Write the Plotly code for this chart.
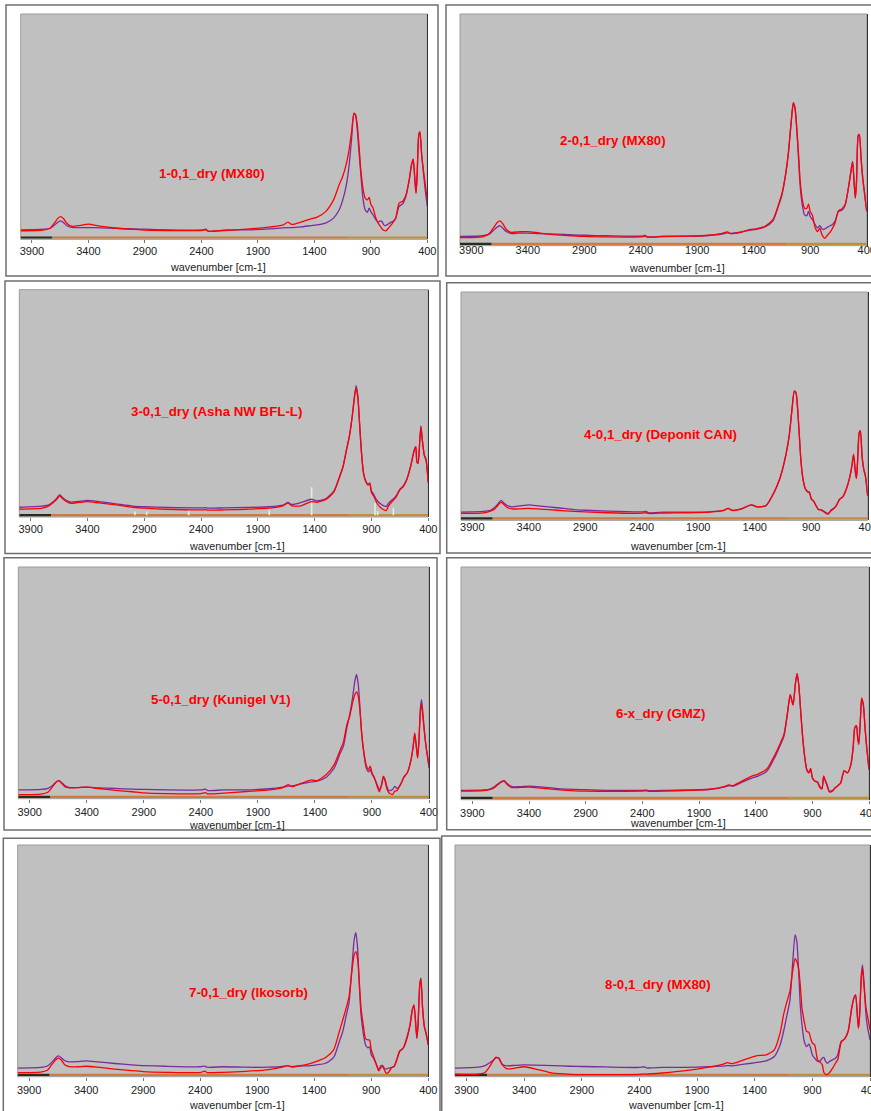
import plotly.graph_objects as go

W, H = 871, 1111

# ---------------------------------------------------------------- data
# Shared wavenumber grid [cm-1]
WN = [4000, 3800, 3740, 3700, 3670, 3645, 3620, 3590, 3550, 3480,
      3400, 3300, 3150, 3000, 2900, 2700, 2400, 2360, 2340, 2200,
      2000, 1800, 1680, 1635, 1600, 1520, 1430, 1380, 1300, 1230,
      1180, 1150, 1120, 1095, 1070, 1050, 1035, 1020, 1005, 990,
      970, 950, 930, 915, 900, 880, 855, 835, 815, 800,
      785, 770, 750, 720, 700, 680, 650, 620, 590, 560,
      540, 525, 510, 500, 490, 475, 465, 450, 435, 420,
      400]

# Absorbance (relative units, % of panel height)
P1_PURPLE = [3.4, 3.7, 4.1, 5.5, 6.8, 7.4, 6.6, 5.2, 4.5, 4.4,
             4.4, 4.3, 4.1, 3.8, 3.7, 3.4, 3.3, 3.7, 2.8, 3.3,
             3.4, 3.8, 4.3, 4.4, 4.4, 4.7, 5.3, 5.6, 6.4, 8.6,
             12.3, 16.5, 22.5, 30.8, 44.0, 54.8, 54.0, 47.8, 38.2, 29.0,
             17.5, 12.3, 11.2, 13.0, 11.5, 10.0, 7.8, 6.8, 7.4, 7.0,
             5.6, 5.3, 5.9, 6.8, 7.3, 8.5, 13.8, 14.8, 18.2, 25.6,
             32.2, 34.5, 25.6, 19.7, 27.8, 45.5, 46.5, 36.7, 29.3, 21.9,
             13.8]
P1_RED = [3.0, 3.3, 4.1, 6.5, 8.6, 9.3, 8.3, 6.2, 5.0, 5.3,
          5.9, 5.0, 4.1, 3.6, 3.3, 3.1, 3.1, 3.4, 2.8, 3.1,
          3.7, 4.6, 5.5, 6.8, 5.8, 6.8, 8.3, 8.9, 11.5, 16.7,
          23.4, 27.0, 32.0, 38.2, 47.0, 55.2, 54.5, 50.0, 41.0, 30.8,
          21.9, 17.5, 16.7, 17.8, 14.8, 13.0, 8.6, 6.4, 4.9, 3.8,
          3.2, 2.9, 3.8, 5.6, 7.0, 8.5, 15.2, 16.0, 18.6, 25.6,
          32.2, 34.9, 25.6, 19.7, 27.8, 46.0, 47.0, 36.7, 30.0, 24.1,
          16.7]

P2_PURPLE = [3.2, 3.5, 4.2, 6.0, 7.3, 7.8, 6.7, 5.3, 4.5, 4.6,
             4.6, 4.4, 4.2, 3.9, 3.7, 3.5, 3.3, 3.6, 3.0, 3.3,
             3.3, 3.6, 4.2, 4.7, 4.5, 5.0, 5.9, 6.2, 7.3, 9.9,
             16.5, 21.2, 29.0, 38.0, 51.4, 60.5, 58.4, 50.0, 38.4, 25.5,
             16.8, 12.5, 12.2, 14.0, 11.8, 10.4, 8.2, 6.8, 7.8, 6.8,
             6.2, 6.5, 7.1, 7.9, 8.5, 9.8, 14.0, 14.5, 16.8, 24.7,
             31.2, 35.5, 25.5, 19.7, 26.9, 46.5, 47.0, 37.0, 28.3, 22.6,
             14.0]
P2_RED = [2.7, 3.0, 4.5, 7.2, 9.2, 9.9, 8.6, 6.2, 5.0, 5.2,
          5.3, 4.7, 3.9, 3.5, 3.2, 3.0, 3.0, 3.3, 2.9, 3.1,
          3.3, 3.7, 4.5, 5.2, 4.3, 4.9, 6.2, 6.5, 7.6, 10.5,
          17.0, 21.8, 29.5, 38.6, 52.0, 60.9, 59.0, 51.0, 40.0, 28.0,
          19.0, 15.4, 15.4, 17.1, 14.0, 12.2, 6.8, 5.3, 6.8, 4.5,
          3.0, 2.4, 3.6, 5.3, 7.0, 9.0, 14.2, 15.1, 17.1, 24.7,
          31.2, 35.5, 25.5, 19.7, 26.9, 46.8, 47.2, 37.0, 28.3, 21.9,
          14.0]

P3_PURPLE = [3.5, 4.0, 4.5, 6.0, 7.5, 9.0, 7.8, 6.6, 5.8, 6.1,
             6.5, 6.0, 5.0, 4.0, 3.7, 3.4, 3.2, 3.3, 3.1, 3.2,
             3.4, 3.7, 4.4, 5.6, 4.7, 5.6, 7.0, 6.3, 7.3, 10.7,
             17.2, 21.6, 28.9, 34.8, 43.5, 52.3, 57.0, 52.3, 40.6, 28.9,
             18.6, 15.0, 13.5, 14.2, 10.6, 9.1, 6.7, 5.6, 4.8, 4.3,
             4.0, 3.8, 5.3, 6.7, 7.5, 8.8, 11.4, 12.9, 15.8, 20.8,
             25.2, 28.5, 30.2, 23.5, 23.0, 33.0, 39.3, 32.0, 26.5, 24.5,
             14.5]
P3_RED = [2.6, 3.1, 4.1, 5.6, 7.0, 8.5, 7.3, 6.1, 5.2, 5.6,
          6.0, 5.4, 4.5, 3.5, 3.1, 2.6, 2.3, 2.4, 2.2, 2.3,
          2.6, 3.1, 4.1, 5.3, 4.1, 4.1, 6.0, 5.7, 6.9, 10.3,
          16.9, 21.3, 28.6, 34.5, 43.0, 51.7, 56.0, 51.8, 40.2, 28.6,
          18.2, 14.7, 13.2, 13.9, 9.9, 8.4, 5.6, 4.1, 3.2, 2.6,
          2.2, 2.0, 4.1, 5.9, 7.0, 8.3, 11.1, 12.6, 15.5, 20.5,
          24.8, 28.3, 30.0, 23.3, 22.8, 32.8, 39.0, 31.7, 26.2, 24.2,
          14.2]

P4_PURPLE = [2.8, 3.1, 3.6, 4.9, 6.6, 7.9, 6.8, 5.7, 5.1, 5.5,
             6.0, 5.4, 4.7, 3.9, 3.6, 3.2, 2.9, 3.1, 2.5, 2.8,
             2.8, 2.9, 3.5, 4.4, 3.6, 4.2, 6.0, 5.1, 5.6, 11.2,
             17.1, 22.2, 28.8, 36.0, 47.7, 55.6, 55.0, 47.7, 36.1, 24.4,
             16.4, 12.7, 11.5, 11.2, 8.6, 7.6, 5.4, 3.9, 3.9, 3.5,
             3.0, 2.6, 2.2, 3.9, 4.5, 5.5, 8.3, 9.5, 12.7, 17.8,
             22.9, 28.0, 20.7, 17.5, 24.4, 37.5, 38.2, 27.3, 21.5, 18.6,
             9.8]
P4_RED = [2.2, 2.5, 3.2, 4.3, 5.9, 7.2, 6.1, 4.8, 4.2, 4.2,
          4.4, 4.1, 3.6, 3.1, 2.9, 2.5, 2.3, 2.5, 2.2, 2.4,
          2.5, 2.8, 3.4, 4.4, 3.5, 4.1, 6.0, 5.1, 5.7, 11.4,
          17.3, 22.4, 29.0, 36.2, 48.0, 55.8, 55.2, 48.0, 36.3, 24.8,
          16.6, 12.9, 11.8, 11.5, 8.7, 7.7, 5.4, 3.9, 3.8, 3.3,
          2.8, 2.3, 1.9, 3.6, 4.3, 5.4, 8.3, 9.6, 12.8, 17.9,
          23.0, 28.2, 20.8, 17.5, 24.6, 37.8, 38.5, 27.5, 21.6, 18.5,
          9.8]

P5_PURPLE = [3.0, 3.2, 3.7, 4.9, 6.3, 7.1, 6.2, 4.8, 4.0, 4.0,
             4.2, 3.9, 3.6, 3.3, 3.2, 3.0, 3.0, 3.3, 2.7, 3.0,
             3.0, 3.5, 4.2, 4.6, 4.7, 5.6, 6.5, 6.8, 8.5, 12.5,
             18.6, 21.9, 29.8, 35.5, 42.7, 49.9, 52.8, 48.5, 38.4, 26.9,
             18.3, 12.5, 10.8, 11.8, 9.9, 8.2, 5.3, 3.2, 5.3, 8.8,
             7.5, 4.6, 2.7, 3.2, 4.5, 3.6, 5.3, 8.5, 10.4, 15.4,
             21.2, 27.2, 21.2, 16.8, 22.6, 38.4, 42.0, 34.0, 25.5, 19.7,
             12.5]
P5_RED = [1.0, 1.2, 2.0, 4.3, 6.3, 7.0, 5.8, 4.3, 3.9, 4.0,
          4.2, 3.6, 2.8, 2.2, 1.7, 1.4, 1.4, 1.8, 1.3, 1.6,
          2.3, 3.0, 4.0, 5.3, 4.4, 5.8, 7.3, 7.0, 9.6, 14.0,
          20.0, 23.7, 31.2, 34.8, 40.6, 44.2, 45.3, 43.5, 37.0, 27.6,
          19.0, 13.7, 11.8, 13.2, 10.4, 8.5, 4.6, 2.2, 5.3, 8.8,
          6.8, 3.6, 1.7, 1.0, 2.4, 2.7, 5.3, 8.5, 10.4, 15.4,
          21.2, 27.6, 21.2, 16.8, 22.3, 37.0, 39.9, 32.7, 25.5, 19.7,
          14.0]

P6_PURPLE = [3.2, 3.4, 3.9, 5.0, 6.2, 7.0, 7.4, 6.0, 4.8, 4.8,
             5.0, 4.7, 4.0, 3.6, 3.5, 3.2, 3.2, 3.3, 3.1, 3.2,
             3.4, 3.7, 4.6, 5.3, 5.0, 6.7, 8.6, 9.3, 11.5, 17.5,
             22.9, 26.5, 35.8, 44.1, 40.1, 48.7, 53.4, 48.7, 38.7, 28.7,
             18.6, 12.2, 10.7, 12.2, 8.6, 7.2, 6.9, 5.0, 4.0, 9.2,
             7.4, 5.7, 2.9, 3.2, 4.3, 5.0, 6.4, 11.5, 10.7, 14.3,
             21.5, 30.1, 30.8, 25.8, 22.9, 34.4, 42.3, 40.0, 30.1, 21.5,
             12.2]
P6_RED = [2.9, 3.1, 3.6, 4.6, 5.8, 6.7, 7.2, 5.6, 4.4, 4.5,
          4.6, 4.2, 3.5, 3.0, 2.9, 2.8, 2.9, 3.0, 2.8, 2.9,
          3.2, 3.7, 4.8, 5.6, 5.2, 7.2, 9.4, 10.2, 12.5, 18.5,
          23.8, 27.4, 36.5, 44.4, 39.8, 48.9, 53.4, 48.9, 38.9, 28.9,
          18.8, 12.4, 10.9, 12.6, 8.8, 7.2, 6.7, 4.5, 3.8, 9.4,
          7.2, 5.2, 2.5, 3.0, 4.2, 5.0, 6.4, 11.7, 10.8, 14.3,
          21.5, 30.3, 31.0, 25.6, 23.2, 34.8, 43.0, 40.2, 30.2, 21.5,
          12.2]

P7_PURPLE = [2.9, 3.2, 3.8, 5.5, 7.2, 8.2, 7.5, 6.2, 5.6, 5.7,
             6.0, 5.6, 4.9, 4.3, 4.0, 3.7, 3.5, 3.8, 3.3, 3.5,
             3.3, 3.3, 3.6, 4.0, 3.6, 3.8, 4.0, 4.3, 5.0, 7.5,
             14.4, 18.7, 25.5, 31.2, 46.0, 58.3, 61.4, 54.7, 38.8, 25.9,
             18.0, 12.9, 11.7, 12.1, 8.6, 7.2, 4.3, 2.2, 4.0, 4.0,
             2.9, 2.5, 2.9, 3.2, 3.6, 5.8, 10.1, 11.5, 15.1, 21.6,
             28.1, 29.9, 21.6, 15.8, 21.6, 38.8, 41.7, 28.8, 20.9, 18.0,
             12.9]
P7_RED = [1.0, 1.2, 2.0, 4.5, 6.3, 7.2, 6.5, 4.5, 3.5, 3.5,
          3.7, 3.3, 2.5, 1.8, 1.4, 1.1, 1.0, 1.6, 1.0, 1.1,
          1.5, 2.3, 3.3, 4.0, 3.4, 4.0, 5.0, 5.8, 7.5, 10.8,
          18.7, 23.7, 28.8, 33.8, 44.6, 51.8, 53.2, 50.1, 40.3, 28.8,
          21.6, 15.5, 15.1, 15.0, 10.8, 7.9, 4.6, 1.7, 3.2, 3.5,
          2.2, 0.7, 1.0, 3.2, 3.6, 6.1, 10.4, 11.5, 15.8, 21.6,
          28.1, 30.2, 21.6, 15.8, 21.6, 38.8, 41.4, 28.8, 20.9, 18.0,
          12.9]

P8_PURPLE = [2.9, 3.3, 4.0, 5.2, 6.2, 7.3, 7.3, 4.6, 3.9, 4.1,
             4.3, 4.2, 4.0, 3.7, 3.6, 3.4, 3.2, 3.5, 3.0, 3.2,
             3.2, 3.5, 3.8, 4.0, 3.9, 4.4, 5.0, 5.4, 6.0, 7.9,
             12.9, 18.7, 25.9, 32.0, 48.9, 60.4, 57.6, 46.0, 30.2, 21.6,
             14.4, 12.2, 13.2, 11.5, 8.6, 7.2, 5.8, 5.8, 7.2, 7.5,
             5.8, 5.0, 5.8, 6.6, 7.2, 8.6, 14.4, 15.5, 18.7, 28.1,
             33.1, 34.5, 25.9, 20.1, 25.9, 43.2, 47.5, 38.8, 25.9, 20.1,
             15.1]
P8_RED = [0.3, 0.3, 1.0, 3.5, 6.0, 7.6, 7.0, 4.3, 2.6, 2.9,
          3.5, 2.5, 0.7, 0.2, 0.1, 0.1, 0.2, 0.4, 0.3, 0.8,
          1.8, 3.3, 4.5, 5.3, 4.8, 6.0, 7.5, 8.3, 8.6, 10.8,
          18.0, 25.9, 31.7, 36.0, 45.0, 50.1, 48.9, 46.0, 38.8, 28.8,
          23.0, 18.7, 18.4, 15.8, 13.7, 12.9, 6.5, 5.5, 4.5, 1.0,
          0.2, 0.2, 1.0, 3.2, 5.0, 6.5, 14.0, 15.5, 18.7, 28.8,
          33.0, 34.5, 25.9, 20.1, 25.9, 42.0, 46.0, 37.0, 29.0, 25.0,
          19.4]

PURPLE_SERIES = [P1_PURPLE, P2_PURPLE, P3_PURPLE, P4_PURPLE,
                 P5_PURPLE, P6_PURPLE, P7_PURPLE, P8_PURPLE]
RED_SERIES = [P1_RED, P2_RED, P3_RED, P4_RED,
              P5_RED, P6_RED, P7_RED, P8_RED]

PANEL_TITLES = ["1-0,1_dry (MX80)", "2-0,1_dry (MX80)",
                "3-0,1_dry (Asha NW BFL-L)", "4-0,1_dry (Deponit CAN)",
                "5-0,1_dry (Kunigel V1)", "6-x_dry (GMZ)",
                "7-0,1_dry (Ikosorb)", "8-0,1_dry (MX80)"]
X_TITLE = "wavenumber [cm-1]"
TICK_VALS = [3900, 3400, 2900, 2400, 1900, 1400, 900, 400]

# zero-level strip along the bottom of each panel
BASE_DARK_WN = [4000, 3720]
BASE_WARM_WN = [3720, 1100]
BASE_OLIVE_WN = [1100, 400]
BASE_LEVEL = [0, 0]

# baseline anchor markers of panel 3
P3_MARK_WN = [2982, 2879, 2509, 1800, 1427, 869, 846, 708]
P3_MARK_H = [1.6, 1.6, 2.8, 2.5, 12.3, 5.4, 1.8, 3.2]

# ---------------------------------------------------------------- layout geometry (px)
PLOT_BOX = [  # x0, x1, y_top, y_bottom
    (20.7, 427.3, 14.0, 239.3),
    (460.0, 866.7, 14.0, 245.7),
    (19.3, 428.3, 289.7, 517.0),
    (461.0, 867.7, 292.0, 520.3),
    (18.3, 429.0, 567.0, 798.7),
    (461.0, 869.0, 567.0, 799.7),
    (17.7, 428.3, 845.0, 1076.7),
    (455.0, 870.0, 845.0, 1076.7),
]
TICK_LEN = [3, 0, 3, 0, 3, 3, 3, 3]
TICK_STANDOFF = [-2, -4, -1, -1, 0, 0, 0, 0]
FRAME_BOX = [  # x0, y0, x1, y1
    (6.0, 5.0, 438.0, 276.0),
    (446.0, 5.0, 880.0, 276.0),
    (5.0, 281.0, 440.0, 553.5),
    (446.7, 282.7, 880.0, 553.0),
    (4.0, 557.7, 437.0, 830.0),
    (446.7, 557.7, 880.0, 829.7),
    (3.3, 838.3, 440.0, 1120.0),
    (441.7, 836.0, 880.0, 1120.0),
]
TITLE_POS = [(211.7, 173.3), (613.0, 140.7), (216.0, 411.0), (660.0, 434.7),
             (220.7, 699.7), (660.0, 713.0), (248.0, 992.3), (658.0, 984.0)]
XTITLE_POS = [(218.0, 267.5), (676.7, 268.0), (237.0, 545.7), (678.0, 545.7),
              (237.0, 824.7), (678.0, 823.0), (236.7, 1105.0), (676.0, 1105.0)]

FONT = "Arial, 'Liberation Sans', sans-serif"
PURPLE = "#7a2b9e"
RED = "#ff0000"
Y_RANGE = [-0.8, 99.2]

fig = go.Figure()
shapes, annotations = [], []

for i in range(8):
    k = "" if i == 0 else str(i + 1)
    xa, ya = "x" + k, "y" + k
    x0, x1, yt, yb = PLOT_BOX[i]

    fig.update_layout(**{
        "xaxis" + k: dict(
            domain=[x0 / W, x1 / W], anchor=ya, range=[4000, 400],
            automargin=False, ticklabeloverflow="allow",
            tickvals=TICK_VALS, ticktext=[str(v) for v in TICK_VALS],
            ticks="outside" if TICK_LEN[i] else "", ticklen=TICK_LEN[i],
            tickwidth=1, tickcolor="#777",
            ticklabelstandoff=TICK_STANDOFF[i],
            tickfont=dict(family=FONT, size=11, color="#222"),
            showgrid=False, zeroline=False, showline=False, fixedrange=True,
        ),
        "yaxis" + k: dict(
            domain=[1 - yb / H, 1 - yt / H], anchor=xa, range=Y_RANGE,
            automargin=False,
            side="right", showticklabels=False, ticks="", showgrid=False,
            zeroline=False, showline=True, linecolor="#333333", linewidth=1.2,
            fixedrange=True,
        ),
    })

    # plot-area outline
    shapes.append(dict(type="rect", xref=xa + " domain", yref=ya + " domain",
                       x0=0, x1=1, y0=0, y1=1, layer="below",
                       line=dict(color="#9c9c9c", width=1)))
    # panel frame
    fx0, fy0, fx1, fy1 = FRAME_BOX[i]
    shapes.append(dict(type="rect", xref="paper", yref="paper",
                       x0=fx0 / W, x1=fx1 / W, y0=1 - fy1 / H, y1=1 - fy0 / H,
                       line=dict(color="#6f6f6f", width=1.5)))

    # zero-level strip
    for seg, col in ((BASE_DARK_WN, "#2b2b1c"), (BASE_WARM_WN, "#cf7b3e"),
                     (BASE_OLIVE_WN, "#bf8f3a")):
        fig.add_trace(go.Scatter(x=seg, y=BASE_LEVEL, xaxis=xa, yaxis=ya,
                                 mode="lines", hoverinfo="skip",
                                 line=dict(color=col, width=2.2)))

    if i == 2:
        mx, my = [], []
        for w, h in zip(P3_MARK_WN, P3_MARK_H):
            mx += [w, w, None]
            my += [0, h, None]
        fig.add_trace(go.Scatter(x=mx, y=my, xaxis=xa, yaxis=ya, mode="lines",
                                 hoverinfo="skip",
                                 line=dict(color="#d6f7cf", width=1.6)))

    fig.add_trace(go.Scatter(x=WN, y=PURPLE_SERIES[i], xaxis=xa, yaxis=ya,
                             mode="lines",
                             line=dict(color=PURPLE, width=1.3, shape="spline",
                                       smoothing=0.6)))
    fig.add_trace(go.Scatter(x=WN, y=RED_SERIES[i], xaxis=xa, yaxis=ya,
                             mode="lines",
                             line=dict(color=RED, width=1.3, shape="spline",
                                       smoothing=0.6)))

    tx, ty = TITLE_POS[i]
    annotations.append(dict(text="<b>" + PANEL_TITLES[i] + "</b>",
                            xref="paper", yref="paper", x=tx / W, y=1 - ty / H,
                            xanchor="center", yanchor="middle", showarrow=False,
                            font=dict(family=FONT, size=13.3, color=RED)))
    ax_, ay_ = XTITLE_POS[i]
    annotations.append(dict(text=X_TITLE, xref="paper", yref="paper",
                            x=ax_ / W, y=1 - ay_ / H, xanchor="center",
                            yanchor="middle", showarrow=False,
                            font=dict(family=FONT, size=10.8, color="#222")))

fig.update_layout(
    width=W, height=H, margin=dict(l=0, r=0, t=0, b=0),
    paper_bgcolor="white", plot_bgcolor="#c0c0c0",
    showlegend=False, shapes=shapes, annotations=annotations,
)

fig.write_html("out.html")
